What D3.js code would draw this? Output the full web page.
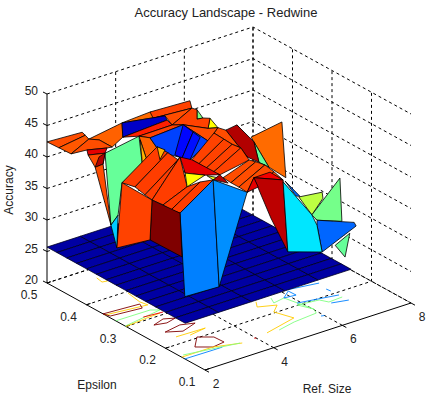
<!DOCTYPE html>
<html>
<head>
<meta charset="utf-8">
<title>Accuracy Landscape - Redwine</title>
<script src="https://d3js.org/d3.v7.min.js"></script>
<style>
	html, body { margin: 0; padding: 0; background: #fff; }
	text { font-family: "Liberation Sans", Arial, sans-serif; fill: #222; }
</style>
</head>
<body>
<div id="chart-area"></div>
<script>
const WIDTH = 428
const HEIGHT = 398

const refSizeTicks = [2, 4, 6, 8]
const epsilonTicks = [0.5, 0.4, 0.3, 0.2, 0.1]
const accuracyTicks = [20, 25, 30, 35, 40, 45, 50]

// flat baseline sheet
const baselineAccuracy = 25.7
const baselineRefSizes = [2, 2.97, 3.93, 4.9, 5.87, 6.83]
const baselineEpsilons = [0.5, 0.475, 0.45, 0.425, 0.4, 0.375, 0.35, 0.325, 0.3, 0.275, 0.25, 0.225, 0.2, 0.175, 0.15]

// landscape points: name, ref size, epsilon, accuracy
const landscapePoints = [
	["1", 5, .381, 46.3], ["2", 5, .366, 45.5], ["3", 5, .381, 44.8], ["4", 6, .435, 41.3],
	["5", 6, .415, 40.5], ["6", 5, .353, 44.3], ["7", 6, .367, 42.6], ["8", 6, .339, 41.7],
	["9", 6, .379, 41.4], ["10", 6, .331, 41.9], ["11", 6, .253, 47], ["12", 6, .243, 38.5],
	["13", 6, .286, 38.7], ["14", 6, .324, 41.4], ["15", 6, .311, 38.6], ["16", 6, .395, 40.8],
	["17", 6, .341, 38.4], ["18", 2, .5, 42.4], ["19", 2, .411, 47], ["20", 2, .394, 46.5],
	["21", 2, .439, 42.6], ["22", 2, .403, 46.8], ["23", 2, .47, 42.5], ["24", 3, .397, 47.2],
	["25", 4, .413, 46.6], ["26", 5, .399, 47.1], ["28", 3, .395, 45], ["29", 3, .455, 42.5],
	["30", 3, .422, 42.5], ["31", 2, .399, 44.6], ["32", 3, .435, 41.9], ["33", 3, .44, 40.9],
	["34", 2, .396, 43.9], ["35", 4, .405, 45.9], ["36", 4, .375, 47.3], ["37", 4, .37, 46.8],
	["39", 5, .394, 46.1], ["40", 5, .444, 41.7], ["41", 6, .435, 37.5], ["42", 5, .416, 42.7],
	["50", 4, .413, 42.5], ["51", 5, .381, 39.4], ["52", 5, .399, 37.7], ["53", 4, .388, 41.1],
	["54", 5, .391, 42.4], ["55", 5, .419, 37.3], ["56", 5, .437, 37.2], ["57", 5, .373, 42.2],
	["58", 4, .441, 41.8], ["59", 4, .408, 38.4], ["60", 4, .423, 39], ["61", 4, .438, 41.3],
	["62", 4, .431, 36.8],
	["L0", 5, .394, 37.9], ["L1", 5, .376, 37.9], ["L2", 5, .358, 37.8], ["L3", 6, .427, 33], ["L4", 6, .41, 33.2],
	["R0", 6, .425, 39.3], ["R1", 6, .4, 39.2], ["R2", 6, .379, 39.1], ["R3", 6, .357, 39.3], ["R4", 6, .336, 38.1],
	["b1", 6, .402, 33], ["b2", 6, .319, 38.4], ["b3", 6, .382, 32.9], ["b4", 6, .296, 38.7], ["b5", 6, .362, 32.9],
	["b6", 6, .273, 38.4], ["b7", 6, .341, 32.8], ["b8", 6, .25, 37.9], ["b9", 6, .324, 35.7],
	["r1", 6, .313, 34.6], ["r2", 6, .238, 26.9], ["r3", 6, .281, 30.8], ["r4", 6, .283, 38],
	["c1", 6, .25, 37.6], ["c2", 7, .264, 30.1], ["c3", 7, .251, 28.9], ["c4", 7, .238, 25.1],
	["d1", 6, .245, 37.9], ["d2", 7, .294, 32], ["d3", 7, .304, 31.7],
	["g1", 7, .297, 31.8], ["g2", 7, .238, 34.6], ["g3", 7, .236, 33.7],
	["m1", 7, .193, 38.4], ["m2", 7, .188, 31.7], ["m3", 7, .251, 29.7],
	["k1", 7, .157, 32.6], ["k2", 7, .152, 32.2],
	["n1", 7, .168, 30.5], ["n2", 7, .18, 26.3], ["n3", 7, .205, 27.3],
	["q1", 3, .397, 37.7], ["q2", 4, .395, 41.7], ["q3", 4, .368, 41.7], ["q4", 4, .451, 33.4],
	["q5", 5, .429, 36.7], ["q6", 4, .426, 33], ["q7", 5, .424, 37.3], ["q8", 4, .408, 32.8],
	["q9", 5, .406, 33.2], ["q10", 4, .38, 33], ["q11", 5, .373, 35.1], ["q12", 5, .447, 28.1],
	["q13", 6, .427, 31.8], ["q14", 5, .424, 28.4],
	["am1", 4, .375, 41.9], ["am2", 4, .388, 39.9], ["rd1", 5, .361, 36.6], ["rd2", 5, .411, 35.2],
	["ly1", 5, .356, 36.7], ["ly2", 6, .422, 32.4], ["ly3", 6, .405, 32.6], ["dr1", 6, .389, 32.6],
	["p1", 3, .238, 25.1], ["p2", 4, .238, 24.9], ["w1", 4, .332, 26.4], ["w2", 4, .413, 26.3], ["w3", 3, .41, 26.9],
	["h1", 3, .407, 32.2], ["h2", 3, .425, 30], ["st1", 3, .445, 39], ["st2", 3, .465, 37.8], ["mm1", 3, .455, 39.8]
]

// patches listed back to front, with the value each one is coloured by
const patchCorners = [
	["1", "2", "3"], ["4", "5", "6"], ["7", "8", "9"], ["10", "11", "12", "13", "14"], ["14", "13", "15"],
	["16", "7", "14", "15", "17"], ["5", "16", "17", "R3", "R2", "R1", "R0"],
	["18", "19", "22", "23"], ["23", "22", "20", "21"], ["20", "24", "28", "30", "29"],
	["21", "20", "29", "30", "32", "31"], ["31", "32", "33", "34"], ["24", "25", "36"],
	["25", "26", "39", "35"], ["35", "39", "40", "36"], ["39", "1", "3", "2", "4", "6", "42", "40"],
	["42", "6", "5", "R0", "41"], ["24", "36", "37", "28"], ["28", "37", "40", "58"], ["58", "40", "42", "50"],
	["58", "50", "53", "59", "60"], ["50", "42", "41", "51", "52", "53"], ["42", "54", "55", "56"], ["54", "57", "52", "55"],
	["L0", "R0", "R1", "L1"], ["L1", "R1", "R2", "L2"], ["L2", "R2", "R3", "L3"], ["L3", "R3", "R4", "L4"],
	["b1", "R4", "b2", "b3"], ["b3", "b2", "b4", "b5"], ["b5", "b4", "b6", "b7"], ["b7", "b6", "b8", "b9"],
	["b9", "r4", "b8"], ["b9", "b8", "r2", "r3"], ["b7", "b9", "r1"], ["d1", "d2", "d3"],
	["g1", "g2", "g3", "c2"], ["c2", "m1", "m2", "m3"], ["n1", "n2", "n3"], ["m3", "k1", "k2", "c4", "c3"],
	["c1", "c2", "c3", "c4", "r2"],
	["33", "58", "62", "q1", "h1", "h2"], ["61", "60", "62"], ["h2", "h1", "w3"],
	["34", "33", "st1", "st2"], ["mm1", "33", "st1", "st2"], ["st2", "st1", "h2"],
	["q1", "q2", "q3", "q4"], ["q4", "q3", "q5", "q6"], ["q6", "q5", "q7", "q8"], ["q2", "am1", "am2"],
	["q8", "q7", "q9", "q10"], ["q10", "q9", "q11", "q12"], ["q12", "q11", "q13", "q14"],
	["q7", "L0", "L4", "rd1", "rd2"], ["rd2", "rd1", "q9"], ["ly1", "ly2", "ly3", "q13"], ["L4", "dr1", "q13"],
	["q14", "q13", "p2", "p1"], ["q13", "b7", "p2"], ["q8", "q14", "w1", "w2"], ["q1", "q8", "w2", "w3"]
]
const patchValues = [
	35, 37.5, 39, 40.4, 34.5,
	44, 41,
	41, 40.8, 40.6,
	41, 43, 40.4,
	41.2, 41, 41.2,
	41, 26.4, 41.9, 41.2,
	40.6, 28.8, 27.6, 27.8,
	41.2, 41.2, 41.2, 41.2,
	41, 41, 41, 41,
	42.7, 43.8, 43, 29.5,
	36.2, 34.8, 34.5, 29.5,
	32,
	34.5, 39, 31.5,
	41, 44, 41,
	41.3, 41.3, 41.3, 39,
	41.3, 41.3, 41.3,
	43, 37.5, 37, 44,
	30, 30.3, 45, 41.2
]

// contour lines on the floor: [ref size, epsilon] pairs and their level
const contourLines = [
	[[3.08, .468], [3.04, .451], [3.18, .449]],
	[[3.15, .395], [3.07, .358], [3.12, .342], [2, .353]],
	[[2, .358], [3, .352], [2.91, .338], [2.06, .345], [2, .358]],
	[[2, .326], [2.99, .325], [3.17, .316], [2, .302]],
	[[2, .3], [2.67, .305], [3.07, .307]],
	[[2.63, .311], [3.16, .307]],
	[[2.56, .278], [2.93, .287], [3.18, .278], [2.87, .272], [2.56, .278]],
	[[2.53, .247], [3.04, .254], [3.38, .245], [2.89, .233], [2.53, .247]],
	[[2.57, .223], [3.4, .221], [2.89, .215]],
	[[2.95, .203], [2.58, .176], [2.91, .159], [3.28, .163], [3.26, .187], [2.95, .203]],
	[[2.01, .159], [2.91, .159], [3.58, .143]],
	[[2, .151], [2.81, .15], [3.08, .15]],
	[[2.1, .164], [3.54, .145]],
	[[3.96, .146], [4, .144]],
	[[5.2, .249], [5.05, .233], [5.48, .22], [5.19, .203], [5.36, .167], [4.37, .149]],
	[[5.6, .246], [5.49, .229], [5.84, .234], [6.02, .174], [5.93, .16], [5.23, .155], [4.69, .146]],
	[[6.94, .182], [6.53, .18], [6.42, .195], [5.85, .201], [6.02, .174]],
	[[6.14, .255], [6.98, .244]],
	[[5.84, .234], [6.16, .231], [6.15, .25], [5.84, .234]],
	[[5.91, .207], [6.95, .191]],
	[[6.91, .22], [6.93, .21]],
	[[6.54, .175], [6.96, .167]],
	[[5.92, .147], [6, .145]]
]
const contourLevels = [38.5, 38.5, 45, 35, 38.5, 43, 45, 45, 38.5, 45, 38.5, 30, 35, 43, 38.5, 35, 35, 30, 30, 30, 30, 30, 30]

const svg = d3.select("#chart-area").append("svg")
	.attr("width", WIDTH)
	.attr("height", HEIGHT)

// orthographic box: each data axis moves a point along its own screen direction
const ORIGIN = {X: 47, Y: 283}
const refX = d3.scaleLinear().domain([2, 8]).range([0, 206])
const refY = d3.scaleLinear().domain([2, 8]).range([0, -67])
const epsX = d3.scaleLinear().domain([0.5, 0.1]).range([0, 158])
const epsY = d3.scaleLinear().domain([0.5, 0.1]).range([0, 87])
const accY = d3.scaleLinear().domain([20, 50]).range([0, -189])

const project = (s, e, a) => [
	ORIGIN.X + refX(s) + epsX(e),
	ORIGIN.Y + refY(s) + epsY(e) + accY(a)
]

// MATLAB jet colormap
const jet = d3.scaleLinear()
	.domain([0, 0.125, 0.375, 0.625, 0.875, 1].map(t => 25 + 20 * t))
	.range(["#00007f", "#0000ff", "#00ffff", "#ffff00", "#ff0000", "#7f0000"])
	.clamp(true)

const line = d3.line()

function dashed(points) {
	svg.append("path")
		.attr("d", line(points))
		.attr("fill", "none")
		.attr("stroke", "#000")
		.attr("stroke-width", 1)
		.attr("stroke-dasharray", "3,3")
}

function solid(points) {
	svg.append("path")
		.attr("d", line(points))
		.attr("fill", "none")
		.attr("stroke", "#000")
		.attr("stroke-width", 1)
}

// grid on the three back walls
accuracyTicks.forEach(a => {
	dashed([project(2, 0.5, a), project(8, 0.5, a), project(8, 0.1, a)])
})
refSizeTicks.slice(1).forEach(s => {
	dashed([project(s, 0.1, 20), project(s, 0.5, 20), project(s, 0.5, 50)])
})
epsilonTicks.slice(0, -1).forEach(e => {
	dashed([project(2, e, 20), project(8, e, 20), project(8, e, 50)])
})

// box axes
solid([project(2, 0.5, 50), project(2, 0.5, 20), project(2, 0.1, 20), project(8, 0.1, 20)])

accuracyTicks.forEach(a => {
	const p = project(2, 0.5, a)
	solid([p, [p[0] - 4, p[1] - 2]])
	svg.append("text")
		.attr("x", 38)
		.attr("y", p[1] + 1)
		.attr("font-size", "12px")
		.attr("text-anchor", "end")
		.text(a)
})
epsilonTicks.forEach(e => {
	const p = project(2, e, 20)
	solid([p, [p[0] + 4, p[1] - 1.3]])
	svg.append("text")
		.attr("x", p[0] - 18)
		.attr("y", p[1] + 16)
		.attr("font-size", "12px")
		.attr("text-anchor", "middle")
		.text(e.toFixed(1))
})
refSizeTicks.forEach(s => {
	const p = project(s, 0.1, 20)
	solid([p, [p[0] + 4, p[1] + 2.2]])
	svg.append("text")
		.attr("x", p[0] + 11)
		.attr("y", p[1] + 18)
		.attr("font-size", "12px")
		.attr("text-anchor", "middle")
		.text(s)
})

// contours under the sheet
svg.append("g").selectAll("path")
	.data(contourLines)
	.enter().append("path")
	.attr("d", d => line(d.map(c => project(c[0], c[1], 20))))
	.attr("fill", "none")
	.attr("stroke", (d, i) => jet(contourLevels[i]))
	.attr("stroke-width", 0.9)

// baseline sheet
const cells = []
baselineEpsilons.slice(1).forEach((e, i) => {
	baselineRefSizes.slice(1).forEach((s, j) => {
		cells.push([
			project(baselineRefSizes[j], baselineEpsilons[i], baselineAccuracy),
			project(s, baselineEpsilons[i], baselineAccuracy),
			project(s, e, baselineAccuracy),
			project(baselineRefSizes[j], e, baselineAccuracy)
		])
	})
})
svg.append("g").selectAll("path")
	.data(cells)
	.enter().append("path")
	.attr("d", d => line(d) + "Z")
	.attr("fill", jet(baselineAccuracy))
	.attr("stroke", "#000020")
	.attr("stroke-width", 0.8)

// landscape
const pointByName = new Map(landscapePoints.map(p => [p[0], p]))
svg.append("g").selectAll("path")
	.data(patchCorners)
	.enter().append("path")
	.attr("d", d => line(d.map(name => {
		const p = pointByName.get(name)
		return project(p[1], p[2], p[3])
	})) + "Z")
	.attr("fill", (d, i) => jet(patchValues[i]))
	.attr("stroke", "#000")
	.attr("stroke-width", 0.8)
	.attr("stroke-linejoin", "round")

// titles
svg.append("text")
	.attr("x", 226)
	.attr("y", 17)
	.attr("font-size", "13px")
	.attr("text-anchor", "middle")
	.text("Accuracy Landscape - Redwine")
svg.append("text")
	.attr("x", 97)
	.attr("y", 389)
	.attr("font-size", "12px")
	.attr("text-anchor", "middle")
	.text("Epsilon")
svg.append("text")
	.attr("x", 327)
	.attr("y", 393)
	.attr("font-size", "12px")
	.attr("text-anchor", "middle")
	.text("Ref. Size")
svg.append("text")
	.attr("transform", "translate(13,190) rotate(-90)")
	.attr("font-size", "12px")
	.attr("text-anchor", "middle")
	.text("Accuracy")
</script>
</body>
</html>
